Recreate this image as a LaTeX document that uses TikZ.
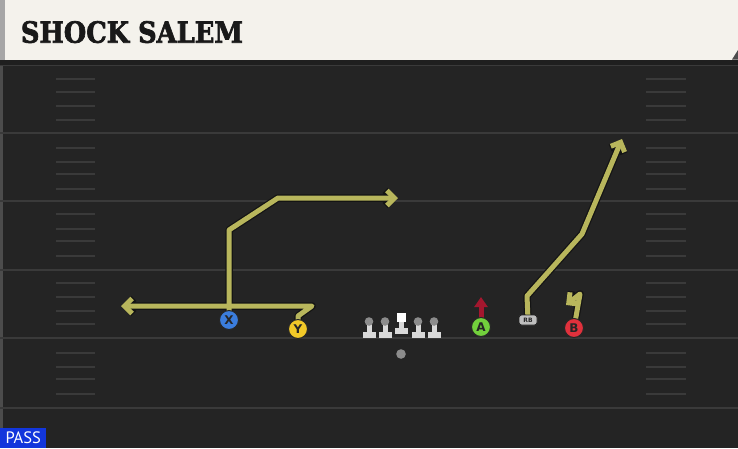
\documentclass[tikz,border=0pt]{standalone}
\usepackage{fontspec}
\usetikzlibrary{arrows.meta}
\newfontfamily\titlefont{DejaVu Serif}[FakeBold=2.5]
\newfontfamily\passfont{PT Sans}
\newfontfamily\lblfont{DejaVu Sans}
\definecolor{field}{HTML}{242424}
\definecolor{yardline}{HTML}{3A3A3A}
\definecolor{hash}{HTML}{3A3A3A}
\definecolor{header}{HTML}{F4F2EC}
\definecolor{routeyel}{HTML}{B8B65C}
\definecolor{routeedge}{HTML}{141414}
\definecolor{pblue}{HTML}{3B7DDD}
\definecolor{pyellow}{HTML}{F2C928}
\definecolor{pgreen}{HTML}{72D03C}
\definecolor{pred}{HTML}{E0313C}
\definecolor{blockred}{HTML}{A3172E}
\definecolor{passblue}{HTML}{1236DC}
\tikzset{
  yl/.style={draw=yardline, line width=2pt},
  hm/.style={draw=hash, line width=1.6pt},
  player/.style={circle, minimum size=19pt, inner sep=0pt, draw=black!85, line width=1pt, font=\lblfont\bfseries\fontsize{12}{12}\selectfont, text=black!85},
  routeout/.style={draw=routeedge, line width=7.5pt, line join=round},
  routein/.style={draw=routeyel, line width=5pt, line join=round},
  tipbarb/.style={-{Straight Barb[length=7.5pt,width=15pt]}},
}
\begin{document}
\begin{tikzpicture}[x=1pt,y=-1pt]
\useasboundingbox (0,0) rectangle (738,448);
% field
\fill[field] (0,0) rectangle (738,448);
\fill[black!88] (0,59) rectangle (738,65);
\draw[yardline, line width=1.2pt] (0,65.5) -- (738,65.5);
\fill[black!70] (0,66) rectangle (3,448);
% yard lines
\foreach \y in {133,201,270,338,408} \draw[yl] (0,\y) -- (738,\y);
% hash marks
\foreach \y in {79,92,106,120,148,162,174,189,214,229,241,256,283,297,311,324,353,367,379,394} {
  \draw[hm] (56,\y) -- (95,\y);
  \draw[hm] (646,\y) -- (686,\y);
}
% header
\fill[header] (0,0) rectangle (738,59.5);
\fill[black!35] (0,0) rectangle (5,59.5);
\fill[black!70] (732,59.5) -- (738,59.5) -- (738,50) -- cycle;
\node[anchor=south west, inner sep=0pt, text=black!90] (title) at (20.7,43.3) {\resizebox{222pt}{21.6pt}{\titlefont\bfseries SHOCK SALEM}};
% PASS
\node[fill=passblue, anchor=south west, minimum width=46pt, minimum height=20pt, inner sep=0pt, text=white, font=\passfont\fontsize{16.5}{16.5}\selectfont] (pass) at (0,448) {PASS};
% players (positions)
\coordinate (Xc) at (229,320);
\coordinate (Yc) at (298,329);
\coordinate (Ac) at (481,327);
\coordinate (Bc) at (574,328);
\coordinate (RBc) at (528,320);
% route waypoints
\coordinate (x1) at (229,230);
\coordinate (x2) at (278,198);
\coordinate (x3) at (398,198);
\coordinate (y1) at (298,316);
\coordinate (y2) at (312,306);
\coordinate (y3) at (121,306);
\coordinate (r1) at (527,296);
\coordinate (r2) at (582,234);
\coordinate (r3) at (622,139);
\coordinate (b1) at (580,294);
\coordinate (b2) at (566,305);
\coordinate (a1) at (481,297);
% routes: outline then fill
\draw[routeout, tipbarb] (Xc) -- (x1) -- (x2) -- (x3);
\draw[routeout, tipbarb] (Yc) -- (y1) -- (y2) -- (y3);
\draw[routeout, tipbarb] (RBc) -- (r1) -- (r2) -- (r3);
\draw[routeout, tipbarb] (Bc) -- (b1) -- (b2);
\draw[routein, tipbarb] (Xc) -- (x1) -- (x2) -- (x3);
\draw[routein, tipbarb] (Yc) -- (y1) -- (y2) -- (y3);
\draw[routein, tipbarb] (RBc) -- (r1) -- (r2) -- (r3);
\draw[routein, tipbarb] (Bc) -- (b1) -- (b2);
% block arrow for A
\draw[draw=blockred, line width=5pt, -{Triangle[length=10pt,width=13pt]}] (Ac) -- (a1);
% player nodes
\node[player, fill=pblue] (X) at (Xc) {X};
\node[player, fill=pyellow] (Y) at (Yc) {Y};
\node[player, fill=pgreen] (A) at (Ac) {A};
\node[player, fill=pred] (B) at (Bc) {B};
\node[draw=black!85, fill=black!25, rounded corners=2.5pt, minimum width=18pt, minimum height=10pt, inner sep=0pt, line width=0.9pt, font=\lblfont\bfseries\fontsize{6}{6}\selectfont, text=black!85] (RB) at (RBc) {RB};
% linemen
\foreach \x in {369,385,418,434} {
  \fill[black!15] (\x-2.5,322) rectangle (\x+2.5,333);
  \fill[black!15] (\x-6.5,331.5) rectangle (\x+6.5,337.5);
  \fill[black!45] (\x,321.5) circle (4.3pt);
}
\fill[black!15] (398.5,320) rectangle (403.5,329);
\fill[black!15] (395,327.5) rectangle (408,333.5);
\fill[white] (396.5,312.5) rectangle (406,322);
% ball / QB
\fill[black!45] (401,354) circle (4.8pt);
\end{tikzpicture}
\end{document}
